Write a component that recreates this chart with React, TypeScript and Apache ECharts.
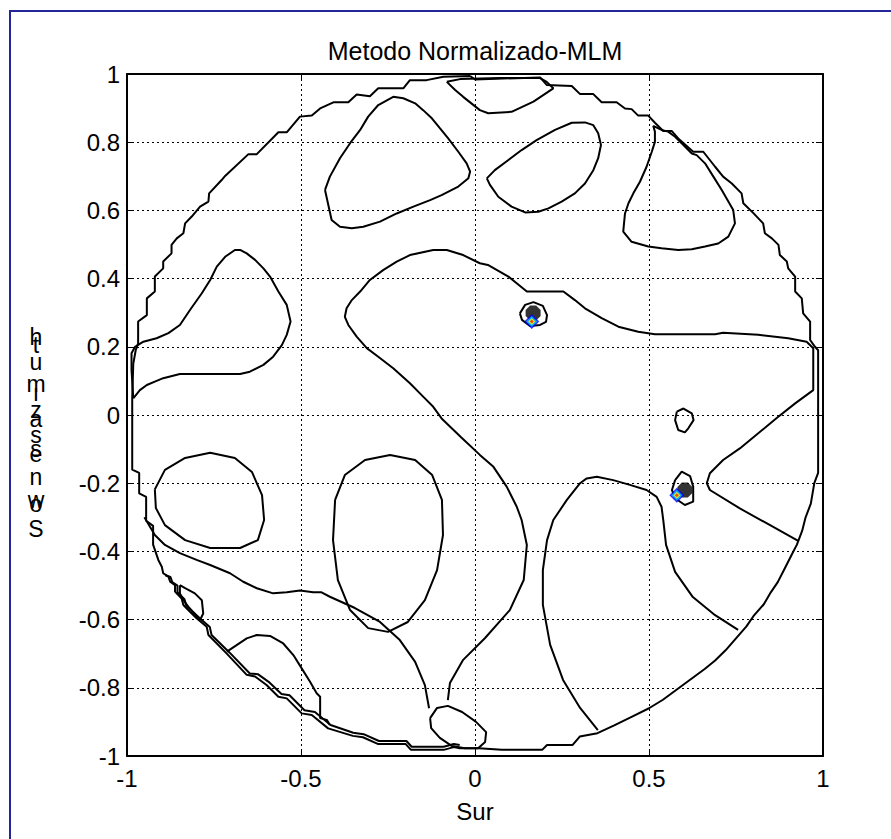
import React, { useEffect, useRef } from "react";
import * as echarts from "echarts";

type P = [number, number];

const chartTitle = "Metodo Normalizado-MLM";
const xAxisName = "Sur";
const xTicks = { min: -1, max: 1, interval: 0.5 };
const yTicks = { min: -1, max: 1, interval: 0.2 };
// stacked glyphs of the y label as they appear: [glyph, baseline px]
const yLabelGlyphs: [string, number][] = [
  ["h", 345], ["t", 353], ["u", 370], ["m", 392], ["ı", 401], ["z", 418], ["a", 427],
  ["s", 443], ["s", 457], ["e", 462], ["n", 485], ["w", 508], ["o", 512], ["S", 537],
];

const outerBoundary: P[] = [
  [-0.014, 0.994], [-0.091, 0.992], [-0.139, 0.982], [-0.187, 0.982], [-0.206, 0.958], [-0.278, 0.958],
  [-0.302, 0.935], [-0.34, 0.94], [-0.364, 0.917], [-0.407, 0.917], [-0.445, 0.899], [-0.469, 0.878],
  [-0.503, 0.875], [-0.541, 0.829], [-0.565, 0.829], [-0.627, 0.765], [-0.651, 0.765], [-0.718, 0.701],
  [-0.728, 0.689], [-0.764, 0.65], [-0.766, 0.626], [-0.79, 0.611], [-0.814, 0.582], [-0.833, 0.562],
  [-0.838, 0.533], [-0.857, 0.518], [-0.872, 0.499], [-0.872, 0.474], [-0.896, 0.45], [-0.896, 0.43],
  [-0.92, 0.406], [-0.92, 0.362], [-0.943, 0.342], [-0.943, 0.293], [-0.968, 0.274], [-0.968, 0.21],
  [-0.975, 0.19], [-0.982, 0.15], [-0.985, 0.05], [-0.985, -0.16], [-0.965, -0.17], [-0.965, -0.23],
  [-0.945, -0.24], [-0.945, -0.31], [-0.925, -0.325], [-0.925, -0.38], [-0.91, -0.425], [-0.9, -0.445],
  [-0.896, -0.464], [-0.881, -0.474], [-0.876, -0.489], [-0.862, -0.499], [-0.862, -0.518], [-0.843, -0.538],
  [-0.838, -0.557], [-0.819, -0.577], [-0.8, -0.596], [-0.771, -0.621], [-0.766, -0.645], [-0.714, -0.699],
  [-0.656, -0.762], [-0.632, -0.767], [-0.599, -0.792], [-0.565, -0.826], [-0.541, -0.831], [-0.498, -0.875],
  [-0.469, -0.88], [-0.422, -0.919], [-0.351, -0.941], [-0.322, -0.945], [-0.278, -0.965], [-0.199, -0.965],
  [-0.184, -0.982], [-0.09, -0.982], [-0.061, -0.974], [-0.044, -0.977], [0.011, -0.977], [0.077, -0.982],
  [0.193, -0.982], [0.207, -0.968], [0.28, -0.968], [0.301, -0.943], [0.352, -0.933], [0.4, -0.91],
  [0.45, -0.885], [0.5, -0.86], [0.54, -0.835], [0.58, -0.805], [0.62, -0.775], [0.66, -0.745],
  [0.69, -0.72], [0.72, -0.69], [0.75, -0.655], [0.78, -0.62], [0.8, -0.59], [0.83, -0.555],
  [0.85, -0.52], [0.87, -0.49], [0.89, -0.45], [0.91, -0.41], [0.925, -0.38], [0.94, -0.34],
  [0.95, -0.3], [0.965, -0.26], [0.975, -0.2], [0.986, -0.17], [0.986, 0.19], [0.977, 0.2],
  [0.963, 0.22], [0.963, 0.274], [0.943, 0.298], [0.939, 0.342], [0.92, 0.362], [0.92, 0.406],
  [0.9, 0.43], [0.896, 0.45], [0.876, 0.469], [0.872, 0.499], [0.853, 0.518], [0.833, 0.533],
  [0.828, 0.562], [0.8, 0.592], [0.771, 0.621], [0.766, 0.65], [0.738, 0.679], [0.713, 0.699],
  [0.69, 0.728], [0.656, 0.772], [0.627, 0.772], [0.584, 0.811], [0.565, 0.833], [0.541, 0.833],
  [0.517, 0.857], [0.498, 0.878], [0.469, 0.878], [0.45, 0.897], [0.431, 0.899], [0.407, 0.917],
  [0.364, 0.917], [0.34, 0.941], [0.302, 0.941], [0.278, 0.965], [0.206, 0.968], [0.187, 0.99],
  [0, 0.984],
];

const innerBottomLeft: P[] = [
  [-0.89, -0.47], [-0.875, -0.475], [-0.87, -0.49], [-0.855, -0.5], [-0.855, -0.52], [-0.835, -0.54],
  [-0.83, -0.558], [-0.81, -0.578], [-0.79, -0.597], [-0.762, -0.622], [-0.757, -0.645], [-0.705, -0.697],
  [-0.647, -0.758], [-0.624, -0.76], [-0.59, -0.785], [-0.556, -0.818], [-0.533, -0.822], [-0.49, -0.866],
  [-0.46, -0.871], [-0.415, -0.909], [-0.35, -0.932], [-0.32, -0.936], [-0.276, -0.956], [-0.197, -0.956],
  [-0.182, -0.973], [-0.09, -0.973], [-0.061, -0.965], [-0.044, -0.968],
];

const topBlob: P[] = [
  [-0.081, 0.977], [-0.057, 0.953], [-0.034, 0.933], [0.014, 0.894], [0.038, 0.885], [0.105, 0.889],
  [0.168, 0.919], [0.225, 0.958], [0.206, 0.977], [0.187, 0.988], [0.072, 0.988], [-0.043, 0.985],
];

const upperLeftOval: P[] = [
  [-0.431, 0.66], [-0.417, 0.699], [-0.388, 0.753], [-0.359, 0.797], [-0.33, 0.836], [-0.307, 0.875],
  [-0.278, 0.909], [-0.235, 0.933], [-0.206, 0.929], [-0.172, 0.914], [-0.149, 0.894], [-0.124, 0.87],
  [-0.101, 0.841], [-0.077, 0.811], [-0.048, 0.772], [-0.024, 0.738], [-0.014, 0.714], [-0.019, 0.694],
  [-0.048, 0.67], [-0.096, 0.645], [-0.129, 0.63], [-0.177, 0.611], [-0.225, 0.591], [-0.273, 0.567],
  [-0.321, 0.552], [-0.354, 0.548], [-0.388, 0.552], [-0.412, 0.572],
];

const upperMidOval: P[] = [
  [0.034, 0.694], [0.057, 0.718], [0.096, 0.748], [0.134, 0.777], [0.177, 0.806], [0.23, 0.836],
  [0.278, 0.857], [0.316, 0.858], [0.34, 0.85], [0.354, 0.826], [0.362, 0.792], [0.354, 0.753],
  [0.34, 0.718], [0.316, 0.679], [0.287, 0.65], [0.249, 0.626], [0.211, 0.606], [0.182, 0.596],
  [0.144, 0.594], [0.105, 0.611], [0.067, 0.64], [0.043, 0.675],
];

const upperRightDrop: P[] = [
  [0.512, 0.848], [0.517, 0.831], [0.517, 0.801], [0.508, 0.772], [0.493, 0.728], [0.474, 0.684],
  [0.455, 0.65], [0.441, 0.621], [0.431, 0.591], [0.426, 0.538], [0.45, 0.508], [0.498, 0.494],
  [0.536, 0.489], [0.584, 0.484], [0.623, 0.486], [0.661, 0.494], [0.699, 0.503], [0.728, 0.523],
  [0.747, 0.562], [0.742, 0.601], [0.728, 0.626], [0.709, 0.66], [0.685, 0.699], [0.661, 0.738],
  [0.637, 0.762], [0.623, 0.767], [0.599, 0.792], [0.575, 0.816], [0.555, 0.831], [0.536, 0.836],
];

const leftBump: P[] = [
  [-0.982, 0.049], [-0.963, 0.073], [-0.943, 0.088], [-0.92, 0.098], [-0.896, 0.108], [-0.848, 0.12],
  [-0.675, 0.12], [-0.647, 0.127], [-0.608, 0.147], [-0.58, 0.171], [-0.555, 0.205], [-0.541, 0.235],
  [-0.53, 0.274], [-0.541, 0.323], [-0.565, 0.362], [-0.589, 0.406], [-0.608, 0.43], [-0.632, 0.455],
  [-0.656, 0.474], [-0.675, 0.484], [-0.69, 0.484], [-0.718, 0.464], [-0.742, 0.435], [-0.761, 0.396],
  [-0.785, 0.357], [-0.819, 0.308], [-0.848, 0.264], [-0.881, 0.24], [-0.915, 0.225], [-0.953, 0.215],
  [-0.977, 0.2], [-0.987, 0.181], [-0.987, 0.132],
];

const centralLine: P[] = [
  [-0.078, -0.836], [-0.072, -0.786], [-0.034, -0.718], [0.029, -0.654], [0.1, -0.572], [0.14, -0.484],
  [0.149, -0.381], [0.134, -0.308], [0.12, -0.269], [0.091, -0.21], [0.053, -0.152], [0.014, -0.117],
  [-0.04, -0.065], [-0.096, -0.01], [-0.12, 0.024], [-0.149, 0.054], [-0.187, 0.093], [-0.235, 0.137],
  [-0.278, 0.171], [-0.311, 0.196], [-0.34, 0.23], [-0.364, 0.264], [-0.374, 0.288], [-0.369, 0.313],
  [-0.354, 0.337], [-0.33, 0.362], [-0.302, 0.396], [-0.264, 0.425], [-0.225, 0.45], [-0.187, 0.469],
  [-0.12, 0.484], [-0.081, 0.484], [-0.034, 0.469], [0.014, 0.445], [0.037, 0.44], [0.096, 0.406],
  [0.149, 0.362], [0.254, 0.362], [0.287, 0.337], [0.316, 0.313], [0.364, 0.284], [0.412, 0.259],
  [0.469, 0.244], [0.517, 0.237], [0.69, 0.237], [0.713, 0.241], [0.814, 0.235], [0.9, 0.225],
  [0.953, 0.215], [0.972, 0.196], [0.972, 0.073], [0.92, 0.034], [0.867, -0.009], [0.761, -0.098],
  [0.713, -0.132], [0.675, -0.171], [0.666, -0.2], [0.675, -0.22], [0.761, -0.274], [0.848, -0.323],
  [0.93, -0.37],
];

const lowerRightHump: P[] = [
  [0.353, -0.924], [0.302, -0.859], [0.253, -0.777], [0.216, -0.674], [0.195, -0.557], [0.195, -0.455],
  [0.207, -0.367], [0.225, -0.308], [0.264, -0.249], [0.302, -0.2], [0.321, -0.186], [0.35, -0.181],
  [0.397, -0.191], [0.445, -0.205], [0.493, -0.22], [0.522, -0.24], [0.536, -0.269], [0.541, -0.308],
  [0.549, -0.381], [0.575, -0.46], [0.626, -0.534], [0.69, -0.587], [0.756, -0.63],
];

const lowerLeftOval: P[] = [
  [-0.92, -0.218], [-0.891, -0.161], [-0.833, -0.126], [-0.761, -0.111], [-0.69, -0.126], [-0.641, -0.167],
  [-0.612, -0.235], [-0.606, -0.308], [-0.624, -0.367], [-0.675, -0.39], [-0.761, -0.39], [-0.833, -0.367],
  [-0.891, -0.323], [-0.917, -0.273],
];

const centerLeftOval: P[] = [
  [-0.402, -0.249], [-0.374, -0.176], [-0.316, -0.132], [-0.244, -0.117], [-0.172, -0.132], [-0.123, -0.176],
  [-0.095, -0.249], [-0.092, -0.352], [-0.109, -0.455], [-0.144, -0.543], [-0.193, -0.607], [-0.25, -0.636],
  [-0.307, -0.625], [-0.359, -0.572], [-0.394, -0.484], [-0.408, -0.367],
];

const lowerLeftBand: P[] = [
  [-0.95, -0.3], [-0.92, -0.352], [-0.891, -0.381], [-0.848, -0.405], [-0.8, -0.425], [-0.761, -0.44],
  [-0.704, -0.464], [-0.666, -0.489], [-0.627, -0.508], [-0.58, -0.523], [-0.541, -0.52], [-0.503, -0.515],
  [-0.465, -0.52], [-0.441, -0.52], [-0.417, -0.533], [-0.345, -0.566], [-0.273, -0.607], [-0.216, -0.66],
  [-0.172, -0.724], [-0.144, -0.792], [-0.132, -0.86],
];

const lowerLeftSmallLoop: P[] = [
  [-0.848, -0.499], [-0.848, -0.523], [-0.838, -0.543], [-0.824, -0.562], [-0.79, -0.601], [-0.781, -0.582],
  [-0.785, -0.543], [-0.805, -0.523], [-0.833, -0.508],
];

const bottomLeftHump: P[] = [
  [-0.713, -0.694], [-0.656, -0.655], [-0.627, -0.645], [-0.589, -0.648], [-0.551, -0.67], [-0.522, -0.704],
  [-0.498, -0.743], [-0.474, -0.782], [-0.455, -0.816], [-0.445, -0.826], [-0.445, -0.889], [-0.426, -0.894],
  [-0.417, -0.909],
];

const bottomLoop: P[] = [
  [-0.129, -0.889], [-0.109, -0.859], [-0.078, -0.853], [-0.037, -0.871], [0.003, -0.9], [0.032, -0.93],
  [0.029, -0.959], [0.009, -0.977], [-0.029, -0.977], [-0.066, -0.971], [-0.101, -0.947], [-0.126, -0.918],
];

const rightSmallLoop: P[] = [
  [0.58, 0.01], [0.599, 0.019], [0.623, 0.005], [0.628, -0.015], [0.613, -0.039], [0.603, -0.051],
  [0.584, -0.044], [0.575, -0.015],
];

const ringSource1: P[] = [
  [0.129, 0.298], [0.144, 0.323], [0.168, 0.331], [0.195, 0.32], [0.207, 0.293], [0.204, 0.273],
  [0.187, 0.264], [0.158, 0.261], [0.135, 0.279],
];

const ringSource2: P[] = [
  [0.575, -0.191], [0.594, -0.166], [0.618, -0.179], [0.627, -0.21], [0.627, -0.254], [0.603, -0.264],
  [0.575, -0.244], [0.566, -0.22],
];

const peakBlobs: P[] = [[0.167, 0.299], [0.603, -0.22]];
const sourcePoints: P[] = [[0.163, 0.274], [0.58, -0.235]];
const sourceLayers: [string, number][] = [["#0000ff", 15], ["#00c8ff", 11], ["#ffff00", 7], ["#ff2000", 4]];

const openLines: P[][] = [centralLine, lowerRightHump, lowerLeftBand, bottomLeftHump, innerBottomLeft];
const closedLines: P[][] = [
  outerBoundary, topBlob, upperLeftOval, upperMidOval, upperRightDrop, leftBump, lowerLeftOval,
  centerLeftOval, lowerLeftSmallLoop, bottomLoop, rightSmallLoop, ringSource1, ringSource2,
];

const FONT = "'Liberation Sans', Arial, sans-serif";

export default function App() {
  const ref = useRef<HTMLDivElement>(null);
  useEffect(() => {
    if (!ref.current) return;
    const chart = echarts.init(ref.current, undefined, { renderer: "svg" });
    const lineSeries = (pts: P[], closed: boolean) => ({
      type: "line",
      data: closed ? [...pts, pts[0]] : pts,
      showSymbol: false,
      symbol: "none",
      silent: true,
      lineStyle: { color: "#000", width: 2 },
      z: 3,
    });
    const axisCommon = {
      type: "value",
      axisLine: { show: true, onZero: false, lineStyle: { color: "#000", width: 2 } },
      axisTick: { show: true, inside: true, length: 7, lineStyle: { color: "#000", width: 1 } },
    };
    const series: any[] = [
      ...openLines.map((p) => lineSeries(p, false)),
      ...closedLines.map((p) => lineSeries(p, true)),
      {
        type: "scatter",
        data: peakBlobs,
        symbol: "path://M3,0 L7,0 L10,3 L10,7 L7,10 L3,10 L0,7 L0,3 Z",
        symbolSize: 15,
        itemStyle: { color: "#000" },
        silent: true,
        z: 4,
      },
      ...sourceLayers.map(([c, s]) => ({
        type: "scatter",
        data: sourcePoints,
        symbol: "diamond",
        symbolSize: s,
        itemStyle: { color: c },
        silent: true,
        z: 5,
      })),
    ];
    chart.setOption({
      animation: false,
      backgroundColor: "#fff",
      grid: { left: 127, top: 74, width: 696, height: 682, show: false, outerBoundsMode: "none" },
      xAxis: [
        {
          ...axisCommon,
          ...xTicks,
          position: "bottom",
          axisLabel: { color: "#000", fontSize: 24, fontFamily: FONT, margin: 10 },
          splitLine: { show: true, lineStyle: { color: "#000", width: 1, type: [2, 3] } },
        },
        { ...axisCommon, ...xTicks, position: "top", axisLabel: { show: false }, splitLine: { show: false } },
      ],
      yAxis: [
        {
          ...axisCommon,
          ...yTicks,
          position: "left",
          axisLabel: { color: "#000", fontSize: 24, fontFamily: FONT, margin: 7 },
          splitLine: { show: true, lineStyle: { color: "#000", width: 1, type: [2, 3] } },
        },
        { ...axisCommon, ...yTicks, position: "right", axisLabel: { show: false }, splitLine: { show: false } },
      ],
      series,
      graphic: [
        {
          type: "rect",
          shape: { x: 10, y: 11, width: 1000, height: 1000 },
          style: { fill: "none", stroke: "#25259a", lineWidth: 2 },
          silent: true,
          z: 10,
        },
        {
          type: "text",
          x: 475,
          y: 51,
          style: { text: chartTitle, fill: "#000", font: `25px ${FONT}`, align: "center", verticalAlign: "middle" },
        },
        {
          type: "text",
          x: 475,
          y: 811,
          style: { text: xAxisName, fill: "#000", font: `24px ${FONT}`, align: "center", verticalAlign: "middle" },
        },
        ...yLabelGlyphs.map(([g, y]) => ({
          type: "text",
          x: 36,
          y: y + 3,
          style: { text: g, fill: "#000", font: `23px ${FONT}`, align: "center", verticalAlign: "bottom" },
        })),
      ],
    });
    return () => chart.dispose();
  }, []);
  return (
    <div
      ref={ref}
      style={{ position: "absolute", left: 0, top: 0, width: 891, height: 839, background: "#fff" }}
    />
  );
}
